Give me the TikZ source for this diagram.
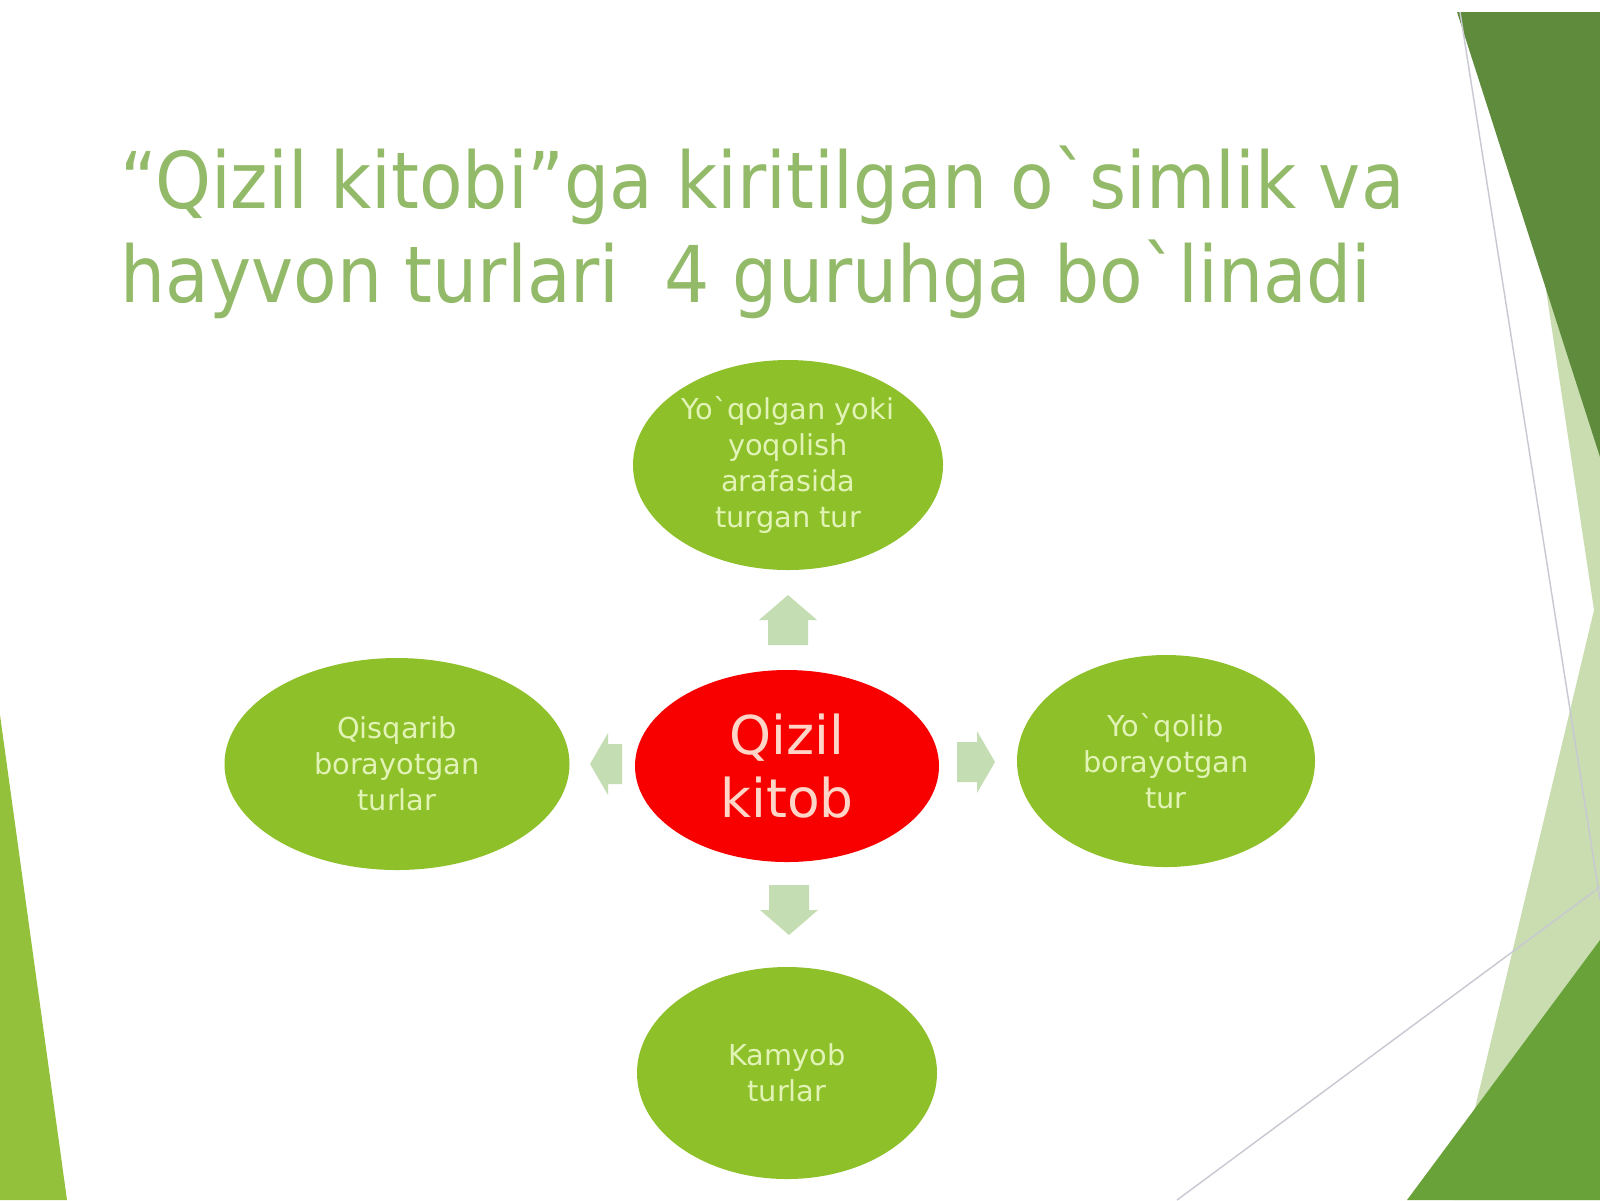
\documentclass[tikz,border=0pt]{standalone}
\usepackage{fontspec}
\setmainfont{DejaVu Sans}[Ligatures=TeXOff]
\usetikzlibrary{shapes.geometric}
\definecolor{titlegreen}{HTML}{92BA68}
\definecolor{leafgreen}{HTML}{8EC02A}
\definecolor{leaftext}{HTML}{E2F3B6}
\definecolor{corered}{HTML}{F80000}
\definecolor{coretext}{HTML}{FFD5C8}
\definecolor{arrowgreen}{HTML}{C4DDB3}
\definecolor{darkgreenA}{HTML}{5F8C3C}
\definecolor{darkgreenB}{HTML}{6AA23A}
\definecolor{palegreen}{HTML}{C9DDB1}
\definecolor{leftgreen}{HTML}{94C13C}
\definecolor{thingray}{HTML}{C8C8D2}
\tikzset{
  leaf/.style={ellipse, fill=leafgreen, inner sep=0pt, text=leaftext,
    font=\fontsize{8.2}{10.2}\selectfont, align=center},
  core/.style={ellipse, fill=corered, inner sep=0pt, text=coretext,
    font=\fontsize{15.2}{17.9}\selectfont, align=center},
  blockarrow/.style={fill=arrowgreen},
  titletext/.style={anchor=base west, inner sep=0pt, text=titlegreen,
    font=\fontsize{20.25}{24}\selectfont},
  thinline/.style={draw=thingray, line width=0.4pt}
}
\begin{document}
\begin{tikzpicture}
\useasboundingbox (0,0) rectangle (16,-12);
\fill[white] (0,0) rectangle (16,-12);
% background facets
\fill[palegreen] (15.46,-2.90) -- (16,-2.90) -- (16,-12) -- (14.53,-12) -- (15.94,-6.10) -- cycle;
\fill[darkgreenA] (14.57,-0.12) -- (16,-0.12) -- (16,-4.57) -- cycle;
\fill[darkgreenB] (14.07,-12) -- (16,-9.40) -- (16,-12) -- cycle;
\fill[leftgreen] (0,-7.15) -- (0.67,-12) -- (0,-12) -- cycle;
\draw[thinline] (14.60,-0.12) -- (16,-9.00);
\draw[thinline] (11.77,-12) -- (16,-8.87);
% title
\node[titletext] (title1) at (1.20,-2.08) {\scalebox{1}[1.1]{“Qizil kitobi”ga kiritilgan o`simlik va}};
\node[titletext] (title2) at (1.20,-3.02) {\scalebox{1}[1.1]{hayvon turlari\ \ 4 guruhga bo`linadi}};
% nodes
\node[leaf, minimum width=3.10cm, minimum height=2.10cm] (nTop) at (7.88,-4.65) {Yo`qolgan yoki\\yoqolish\\arafasida\\turgan tur};
\node[leaf, minimum width=3.45cm, minimum height=2.12cm] (nLeft) at (3.97,-7.64) {Qisqarib\\borayotgan\\turlar};
\node[core, minimum width=3.04cm, minimum height=1.92cm] (nCore) at (7.87,-7.66) {Qizil\\kitob};
\node[leaf, minimum width=2.98cm, minimum height=2.12cm] (nRight) at (11.66,-7.61) {Yo`qolib\\borayotgan\\tur};
\node[leaf, minimum width=3.00cm, minimum height=2.12cm] (nBottom) at (7.87,-10.73) {Kamyob\\turlar};
% block arrows
\fill[blockarrow] (7.68,-6.45) -- (7.68,-6.20) -- (7.59,-6.20) -- (7.88,-5.95) -- (8.17,-6.20) -- (8.08,-6.20) -- (8.08,-6.45) -- cycle;
\fill[blockarrow] (7.69,-8.85) -- (7.69,-9.10) -- (7.60,-9.10) -- (7.89,-9.35) -- (8.18,-9.10) -- (8.09,-9.10) -- (8.09,-8.85) -- cycle;
\fill[blockarrow] (6.22,-7.44) -- (6.08,-7.44) -- (6.08,-7.33) -- (5.90,-7.64) -- (6.08,-7.95) -- (6.08,-7.84) -- (6.22,-7.84) -- cycle;
\fill[blockarrow] (9.57,-7.42) -- (9.77,-7.42) -- (9.77,-7.31) -- (9.95,-7.62) -- (9.77,-7.93) -- (9.77,-7.82) -- (9.57,-7.82) -- cycle;
\end{tikzpicture}
\end{document}
